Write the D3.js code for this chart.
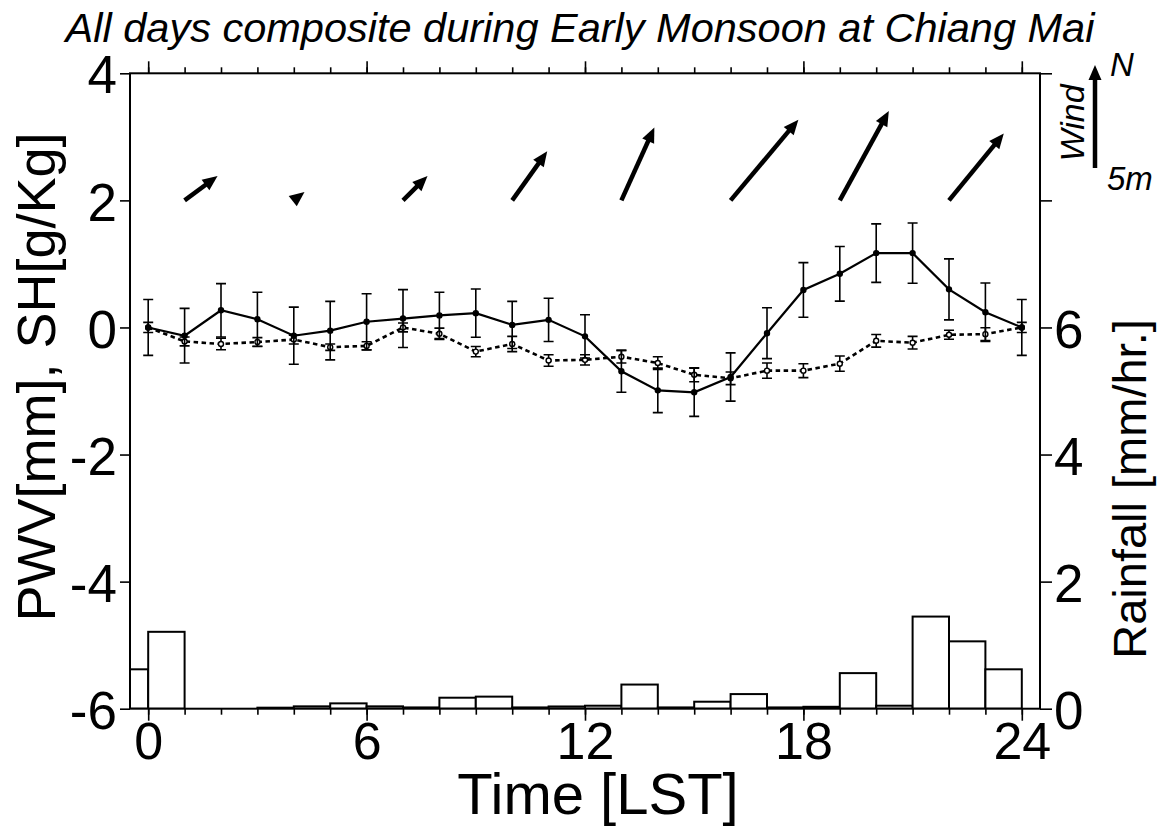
<!DOCTYPE html>
<html>
<head>
<meta charset="utf-8">
<script src="https://cdn.jsdelivr.net/npm/d3@7"></script>
<style>
  body { margin: 0; background: #fff; }
  svg { display: block; font-family: 'Liberation Sans', Arial, Helvetica, sans-serif; }
</style>
</head>
<body>
<svg id="chart" width="1165" height="831"></svg>
<script>
// hourly composite, 0..24 LST (24 repeats 0)
const hours = d3.range(25);
const pwv = [0, -0.13, 0.27, 0.13, -0.13, -0.05, 0.09, 0.14, 0.19, 0.225, 0.04, 0.12,
  -0.14, -0.69, -0.99, -1.02, -0.78, -0.09, 0.59, 0.845, 1.17, 1.17, 0.6, 0.24, 0];
const pwvErr = [0.44, 0.43, 0.42, 0.425, 0.45, 0.46, 0.44, 0.455, 0.365, 0.38, 0.37, 0.34,
  0.34, 0.33, 0.35, 0.38, 0.38, 0.4, 0.43, 0.43, 0.46, 0.475, 0.48, 0.46, 0.44];
const sh = [0, -0.22, -0.26, -0.23, -0.19, -0.31, -0.29, 0, -0.1, -0.38, -0.26, -0.52,
  -0.51, -0.46, -0.56, -0.745, -0.8, -0.68, -0.68, -0.57, -0.21, -0.24, -0.115, -0.105, 0];
const shErr = [0.08, 0.07, 0.09, 0.07, 0.07, 0.05, 0.065, 0.07, 0.09, 0.08, 0.12, 0.09,
  0.08, 0.1, 0.1, 0.11, 0.1, 0.12, 0.11, 0.12, 0.1, 0.1, 0.07, 0.1, 0.08];

// rainfall for the hour starting at index (0-1, 1-2, ... 23-24)
const rain = [1.21, 0, 0, 0.016, 0.037, 0.084, 0.037, 0.02, 0.173, 0.19, 0.02, 0.035,
  0.047, 0.38, 0.02, 0.11, 0.23, 0.02, 0.03, 0.56, 0.047, 1.45, 1.06, 0.62];

// wind vectors every 3 h, m/s (u east, v north)
const windHours = [1, 4, 7, 10, 13, 16, 19, 22];
const windU = [1.6, 0.52, 1.19, 1.7, 1.6, 3.29, 2.38, 2.66];
const windV = [1.18, 0.41, 1.18, 2.38, 3.54, 3.92, 4.34, 3.25];

const majorTicks = [0, 6, 12, 18, 24];
const leftTicks = [-6, -4, -2, 0, 2, 4];
const rightTicks = [0, 2, 4, 6, 8, 10];
const rightLabels = [0, 2, 4, 6];

const L = 130, R = 1040, T = 73.3, B = 708.7;

const svg = d3.select('#chart');
const x = d3.scaleLinear().domain([-0.5, 24.5]).range([L, R]);
const y = d3.scaleLinear().domain([-6, 4]).range([B, T]);
const yRain = d3.scaleLinear().domain([0, 10]).range([B, T]);
const windLen = d3.scaleLinear().domain([0, 5]).range([0, 103]);

svg.append('clipPath').attr('id', 'plot-clip')
  .append('rect').attr('x', L).attr('y', T).attr('width', R - L).attr('height', B - T);

// rainfall histogram (periodic, so the 23-24 bar also shows left of 0)
const barHours = d3.range(-1, 24);
svg.append('g').attr('clip-path', 'url(#plot-clip)')
  .selectAll('rect')
  .data(barHours)
  .join('rect')
  .attr('x', h => x(h))
  .attr('width', h => x(h + 1) - x(h))
  .attr('y', h => yRain(rain[(h + 24) % 24]))
  .attr('height', h => yRain(0) - yRain(rain[(h + 24) % 24]))
  .attr('fill', '#fff')
  .attr('stroke', '#000')
  .attr('stroke-width', 2);

// axes
const styleAxis = (g, size) => {
  g.select('.domain').remove();
  g.selectAll('.tick line').attr('stroke', '#000').attr('stroke-width', 1.6);
  g.selectAll('.tick text').attr('fill', '#000').style('font-size', size + 'px');
};

svg.append('g').attr('transform', `translate(0,${B})`)
  .call(d3.axisBottom(x).tickValues(hours).tickSize(6).tickFormat(''))
  .call(g => styleAxis(g, 10));
svg.append('g').attr('transform', `translate(0,${B})`)
  .call(d3.axisBottom(x).tickValues(majorTicks).tickSize(12).tickPadding(1).tickFormat(d => String(d)))
  .call(g => styleAxis(g, 52));
svg.append('g').attr('transform', `translate(0,${T})`)
  .call(d3.axisTop(x).tickValues(hours).tickSize(6).tickFormat(''))
  .call(g => styleAxis(g, 10));
svg.append('g').attr('transform', `translate(0,${T})`)
  .call(d3.axisTop(x).tickValues(majorTicks).tickSize(12).tickFormat(''))
  .call(g => styleAxis(g, 10));
svg.append('g').attr('transform', `translate(${L},0)`)
  .call(d3.axisLeft(y).tickValues(leftTicks).tickSize(10).tickPadding(3).tickFormat(d => String(d)))
  .call(g => styleAxis(g, 53))
  .call(g => g.selectAll('.tick text').attr('dy', '0.37em'));
svg.append('g').attr('transform', `translate(${R},0)`)
  .call(d3.axisRight(yRain).tickValues(rightTicks).tickSize(12).tickPadding(2)
    .tickFormat(d => rightLabels.includes(d) ? String(d) : ''))
  .call(g => styleAxis(g, 53))
  .call(g => g.selectAll('.tick text').attr('dy', '0.37em'));

svg.append('rect')
  .attr('x', L).attr('y', T).attr('width', R - L).attr('height', B - T)
  .attr('fill', 'none').attr('stroke', '#000').attr('stroke-width', 2);

// series with error bars
const drawSeries = (vals, errs, dash, open) => {
  const g = svg.append('g');
  g.selectAll('path.err')
    .data(hours)
    .join('path')
    .attr('class', 'err')
    .attr('d', h => {
      const x0 = x(h), y1 = y(vals[h] + errs[h]), y2 = y(vals[h] - errs[h]);
      return `M${x0 - 5},${y1}H${x0 + 5}M${x0},${y1}V${y2}M${x0 - 5},${y2}H${x0 + 5}`;
    })
    .attr('fill', 'none').attr('stroke', '#000').attr('stroke-width', 1.6);
  g.append('path')
    .datum(hours)
    .attr('d', d3.line().x(h => x(h)).y(h => y(vals[h])))
    .attr('fill', 'none').attr('stroke', '#000')
    .attr('stroke-width', dash ? 2.6 : 2.2)
    .attr('stroke-dasharray', dash || null);
  g.selectAll('circle')
    .data(hours)
    .join('circle')
    .attr('cx', h => x(h)).attr('cy', h => y(vals[h]))
    .attr('r', 2.5)
    .attr('fill', open ? '#fff' : '#000')
    .attr('stroke', '#000').attr('stroke-width', 1.4);
};
drawSeries(sh, shErr, '4.5,3.5', true);
drawSeries(pwv, pwvErr, null, false);

// wind arrows
const arrow = (g, x0, y0, dx, dy) => {
  const len = Math.hypot(dx, dy);
  const ux = dx / len, uy = dy / len;
  const hl = 15, hw = 6.5;
  const tx = x0 + dx, ty = y0 + dy;
  if (len > hl) {
    g.append('line')
      .attr('x1', x0).attr('y1', y0)
      .attr('x2', tx - ux * hl * 0.7).attr('y2', ty - uy * hl * 0.7)
      .attr('stroke', '#000').attr('stroke-width', 4.5);
  }
  const bx = tx - ux * hl, by = ty - uy * hl;
  g.append('path')
    .attr('d', `M${tx},${ty}L${bx - uy * hw},${by + ux * hw}L${bx + uy * hw},${by - ux * hw}Z`)
    .attr('fill', '#000');
};
const windG = svg.append('g');
windHours.forEach((h, i) => {
  arrow(windG, x(h), y(2), windLen(windU[i]), -windLen(windV[i]));
});

// wind legend
arrow(windG, 1095, 168, 0, -windLen(5));
svg.append('text').attr('x', 1110).attr('y', 76)
  .style('font-size', '33px').style('font-style', 'italic').text('N');
svg.append('text').attr('x', 1107).attr('y', 190)
  .style('font-size', '33px').style('font-style', 'italic').text('5m');
svg.append('text')
  .attr('transform', 'translate(1084,123) rotate(-90)')
  .attr('text-anchor', 'middle')
  .style('font-size', '34px').style('font-style', 'italic').text('Wind');

// titles
svg.append('text').attr('x', 580).attr('y', 42)
  .attr('text-anchor', 'middle')
  .style('font-size', '41.5px').style('font-style', 'italic')
  .text('All days composite during Early Monsoon at Chiang Mai');
svg.append('text').attr('x', 598).attr('y', 814)
  .attr('text-anchor', 'middle')
  .style('font-size', '58px')
  .text('Time [LST]');
svg.append('text')
  .attr('transform', 'translate(55,377) rotate(-90)')
  .attr('text-anchor', 'middle')
  .style('font-size', '54px')
  .text('PWV[mm], SH[g/Kg]');
svg.append('text')
  .attr('transform', 'translate(1146,489) rotate(-90)')
  .attr('text-anchor', 'middle')
  .style('font-size', '47px')
  .text('Rainfall [mm/hr.]');
</script>
</body>
</html>
